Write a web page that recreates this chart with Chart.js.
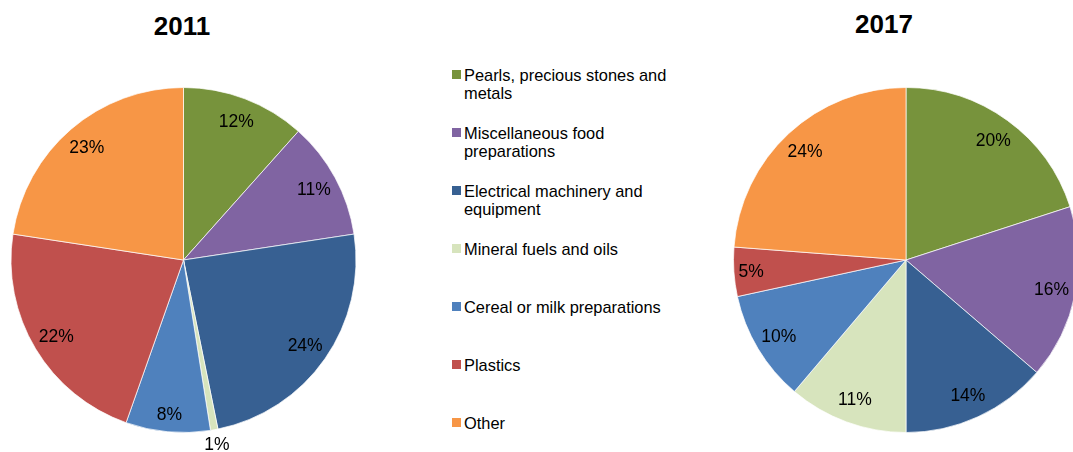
<!DOCTYPE html>
<html>
<head>
<meta charset="utf-8">
<script src="https://cdn.jsdelivr.net/npm/chart.js@4"></script>
<style>
    html, body { margin: 0; padding: 0; background: #fff; }
    body { width: 1073px; height: 452px; overflow: hidden; position: relative; font-family: "Liberation Sans", Arial, sans-serif; }
    .box { position: absolute; top: 0; height: 452px; }
    .title { position: absolute; width: 200px; text-align: center; font-weight: bold; font-size: 26px; line-height: 30px; color: #000; }
    .legend-item { position: absolute; left: 452px; width: 240px; }
    .legend-item .sw { position: absolute; left: 0; top: 4px; width: 9px; height: 9px; }
    .legend-item .txt { position: absolute; left: 12px; width: 218px; font-size: 16.4px; line-height: 18.5px; color: #000; }
</style>
</head>
<body>
<div class="title" style="left:82px; top:11px;">2011</div>
<div class="title" style="left:784px; top:9px;">2017</div>
<div class="box" style="left:0; width:367px;"><canvas id="chart2011"></canvas></div>
<div class="box" style="left:700px; width:412px;"><canvas id="chart2017"></canvas></div>
<div id="legend"></div>

<script>
// Categories and shares (%)
const categories = [
    'Pearls, precious stones and metals',
    'Miscellaneous food preparations',
    'Electrical machinery and equipment',
    'Mineral fuels and oils',
    'Cereal or milk preparations',
    'Plastics',
    'Other'
];
const values2011 = [11.6, 11.0, 24.2, 0.7, 7.9, 22.0, 22.6];
const values2017 = [20.0, 16.3, 13.7, 11.2, 10.4, 4.6, 23.8];
const sliceColors = ['#77933C', '#8064A2', '#376092', '#D7E4BD', '#4F81BD', '#C0504D', '#F79646'];

// Percentage labels drawn on each slice
const pctLabels = {
    id: 'pctLabels',
    afterDatasetsDraw(chart) {
        const ctx = chart.ctx;
        const data = chart.data.datasets[0].data;
        const total = data.reduce((a, b) => a + b, 0);
        const meta = chart.getDatasetMeta(0);
        ctx.save();
        ctx.font = '17.5px "Liberation Sans", Arial, sans-serif';
        ctx.fillStyle = '#000';
        ctx.textAlign = 'center';
        ctx.textBaseline = 'middle';
        meta.data.forEach((arc, i) => {
            const pct = data[i] / total * 100;
            const mid = (arc.startAngle + arc.endAngle) / 2;
            let f = 0.86;
            if (pct < 2) f = 1.085;
            else if (pct < 9) f = 0.9;
            const r = arc.outerRadius * f;
            ctx.fillText(Math.round(pct) + '%', arc.x + Math.cos(mid) * r, arc.y + Math.sin(mid) * r + 1);
        });
        ctx.restore();
    }
};

function makePie(id, values) {
    const ctx = document.getElementById(id).getContext('2d');
    return new Chart(ctx, {
        type: 'pie',
        data: {
            labels: categories,
            datasets: [{
                data: values,
                backgroundColor: sliceColors,
                borderColor: 'rgba(255,255,255,0.7)',
                borderWidth: 1
            }]
        },
        options: {
            responsive: true,
            maintainAspectRatio: false,
            animation: false,
            layout: { padding: { top: 87, bottom: 19, left: 0, right: 0 } },
            plugins: {
                legend: { display: false },
                tooltip: { enabled: false }
            }
        },
        plugins: [pctLabels]
    });
}

// Legend in the middle, built from the same arrays
function buildLegend() {
    const legend = document.getElementById('legend');
    categories.forEach((name, i) => {
        const item = document.createElement('div');
        item.className = 'legend-item';
        item.style.top = (65.7 + i * 58.05) + 'px';
        item.innerHTML = '<div class="sw" style="background:' + sliceColors[i] + '"></div>' +
            '<div class="txt">' + name + '</div>';
        legend.appendChild(item);
    });
}

document.addEventListener('DOMContentLoaded', function() {
    makePie('chart2011', values2011);
    makePie('chart2017', values2017);
    buildLegend();
});
</script>
</body>
</html>
